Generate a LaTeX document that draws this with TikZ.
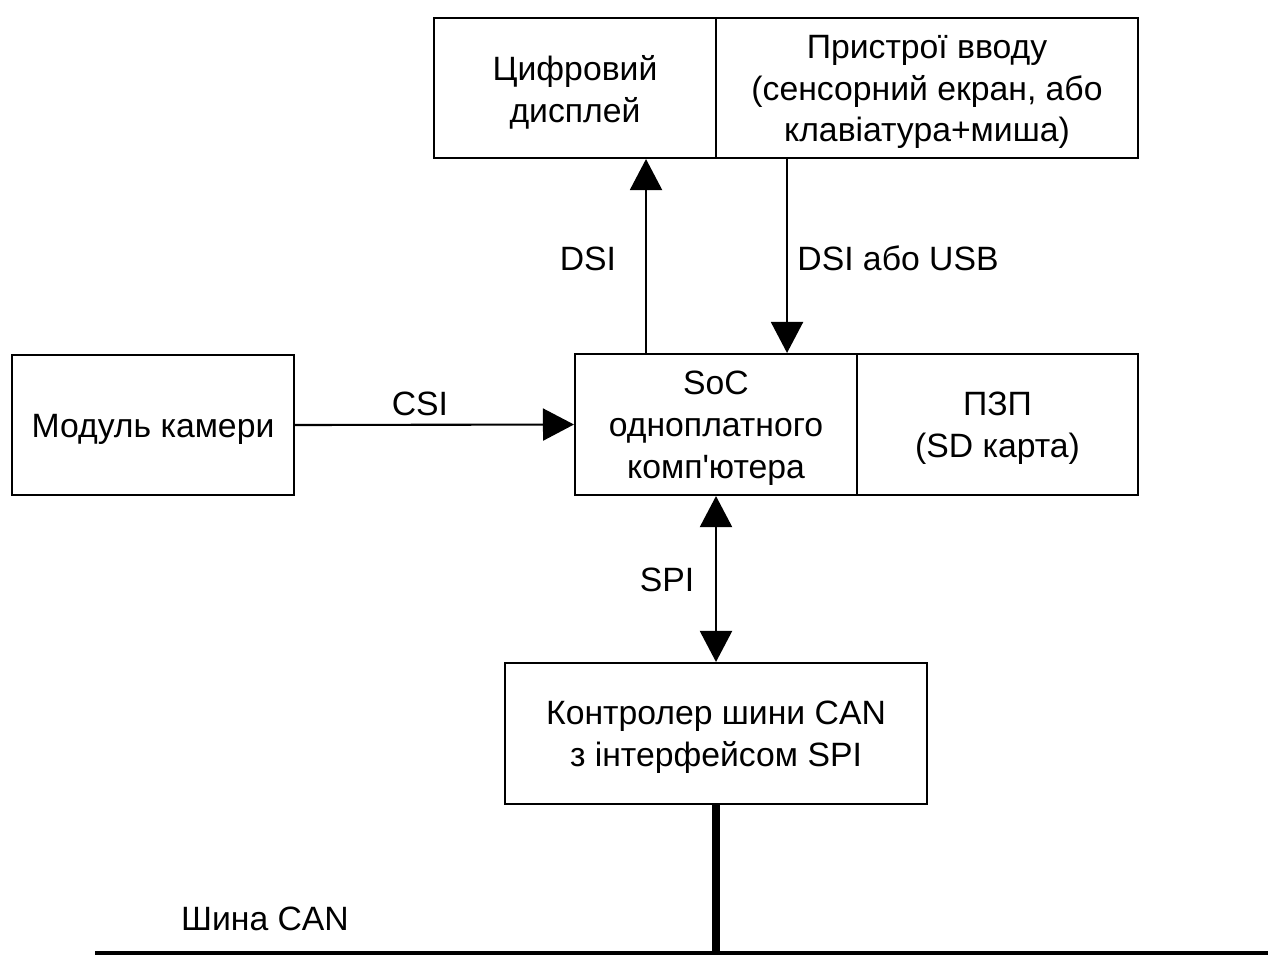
\documentclass[tikz,border=0pt]{standalone}
\usepackage{fontspec}
\setmainfont{Liberation Sans}[Ligatures=TeXOff]
\usetikzlibrary{arrows.meta,calc}
\newcommand\lowertxt[1]{\raisebox{-0.08cm}[\height][\depth]{#1}}
\begin{document}
\begin{tikzpicture}[x=0.02cm,y=-0.02cm,
  box/.style={draw,line width=1.2pt,rectangle,inner sep=0pt,align=center,
    font=\fontsize{19.2}{23.8}\selectfont},
  lbl/.style={inner sep=0pt,font=\fontsize{19.2}{23.8}\selectfont},
  arr/.style={line width=1.2pt,-{Triangle[length=0.62cm,width=0.64cm]}},
  darr/.style={line width=1.2pt,{Triangle[length=0.62cm,width=0.64cm]}-{Triangle[length=0.62cm,width=0.64cm]}},
  busline/.style={line width=2.8pt},
  stub/.style={line width=4.5pt}]
\useasboundingbox (0,0) rectangle (1268,958);
\node[box,minimum width=5.64cm,minimum height=2.8cm] (disp) at (575,88) {\lowertxt{Цифровий}\\\lowertxt{дисплей}};
\node[box,minimum width=8.44cm,minimum height=2.8cm] (inp) at (927,88) {\lowertxt{Пристрої вводу}\\\lowertxt{(сенсорний екран, або}\\\lowertxt{клавіатура+миша)}};
\node[box,minimum width=5.64cm,minimum height=2.82cm] (soc) at (716,424.5) {\lowertxt{SoC}\\\lowertxt{одноплатного}\\\lowertxt{комп'ютера}};
\node[box,minimum width=5.62cm,minimum height=2.82cm] (rom) at (997.5,424.5) {\lowertxt{ПЗП}\\\lowertxt{(SD карта)}};
\node[box,minimum width=5.64cm,minimum height=2.8cm] (cam) at (153,425) {\lowertxt{Модуль камери}};
\node[box,minimum width=8.44cm,minimum height=2.82cm] (can) at (716,733.5) {\lowertxt{Контролер шини CAN}\\\lowertxt{з інтерфейсом SPI}};
\coordinate (busL) at (95,953);
\coordinate (busR) at (1268,953);
\draw[arr] ([xshift=-1.4cm]soc.north) -- ([xshift=-1.4cm]soc.north |- disp.south);
\draw[arr] ([xshift=-2.8cm]inp.south) -- ([xshift=-2.8cm]inp.south |- soc.north);
\draw[arr] (cam.east) -- (soc.west);
\draw[darr] (soc.south) -- (can.north);
\draw[busline] (busL) -- (busR);
\draw[stub] (can.south) -- (can.south |- busL);
\node[lbl] (ldsi) at (588,259) {DSI};
\node[lbl] (lusb) at (898,258) {DSI або USB};
\node[lbl] (lcsi) at (420,404) {CSI};
\node[lbl] (lspi) at (667,580) {SPI};
\node[lbl] (lbus) at (265,919) {Шина CAN};
\end{tikzpicture}
\end{document}
